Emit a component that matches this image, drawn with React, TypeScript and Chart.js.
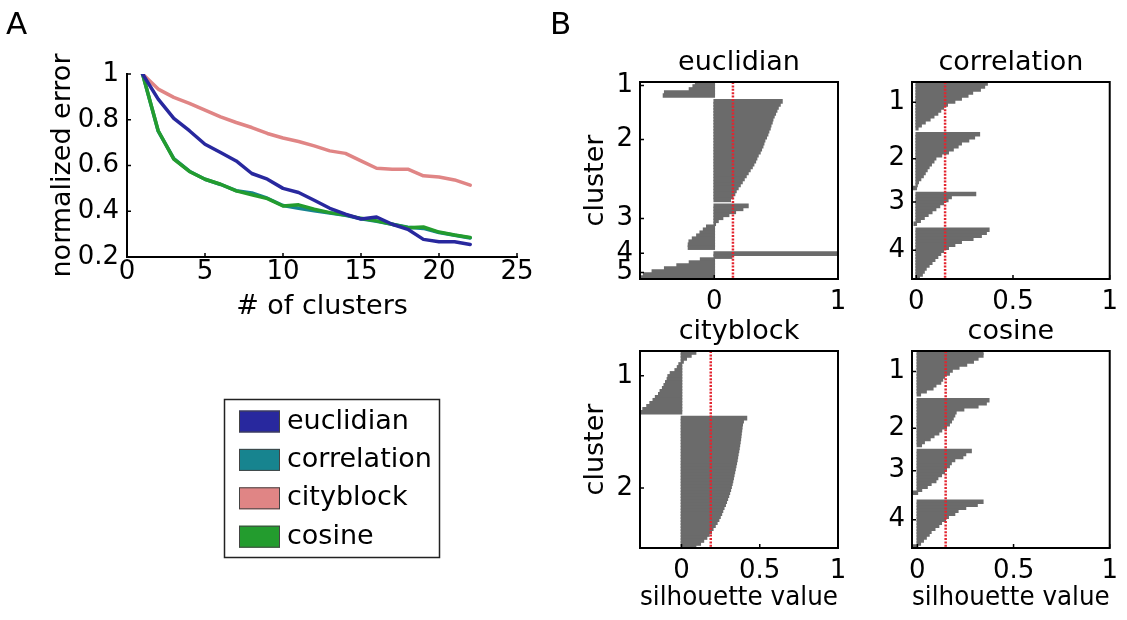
import React, { useEffect, useRef } from 'react';
import { Chart, registerables } from 'chart.js';
Chart.register(...registerables);

const FONT = "'DejaVu Sans', 'Liberation Sans', sans-serif";

// ---------- Panel A data ----------
const clusterCounts = [1, 2, 3, 4, 5, 6, 7, 8, 9, 10, 11, 12, 13, 14, 15, 16, 17, 18, 19, 20, 21, 22];
const euclidianErr = [1, 0.89, 0.806, 0.752, 0.693, 0.657, 0.62, 0.565, 0.54, 0.5, 0.482, 0.448, 0.413, 0.387, 0.366, 0.375, 0.343, 0.321, 0.277, 0.267, 0.267, 0.255];
const correlationErr = [1, 0.75, 0.63, 0.575, 0.54, 0.517, 0.49, 0.48, 0.457, 0.425, 0.413, 0.402, 0.392, 0.382, 0.367, 0.356, 0.343, 0.33, 0.325, 0.307, 0.295, 0.283];
const cityblockErr = [1, 0.934, 0.898, 0.872, 0.842, 0.813, 0.788, 0.766, 0.74, 0.72, 0.705, 0.686, 0.664, 0.653, 0.62, 0.588, 0.584, 0.584, 0.555, 0.55, 0.537, 0.514];
const cosineErr = [1, 0.752, 0.628, 0.574, 0.54, 0.518, 0.489, 0.472, 0.455, 0.423, 0.428, 0.409, 0.394, 0.384, 0.369, 0.358, 0.343, 0.328, 0.331, 0.309, 0.296, 0.285];
const xTicksA = [0, 5, 10, 15, 20, 25];
const yTicksA = [0.2, 0.4, 0.6, 0.8, 1];
const seriesNames = ['euclidian', 'correlation', 'cityblock', 'cosine'];
const seriesColors = ['#28289e', '#17848f', '#e08585', '#239c2e'];

// ---------- Panel B data (one value per sample row, null = gap between clusters) ----------
const euclidianSil = [
  -0.15, -0.17, -0.2, -0.4, -0.41, null,
  0.547, 0.531, 0.515, 0.504, 0.493, 0.482, 0.472, 0.466, 0.456, 0.45,
  0.439, 0.431, 0.42, 0.407, 0.399, 0.391, 0.38, 0.369, 0.353, 0.342,
  0.332, 0.318, 0.305, 0.288, 0.272, 0.256, 0.24, 0.224, 0.208, 0.191,
  0.175, 0.164, 0.148, 0.129, null,
  0.272, 0.229, 0.17, 0.116, 0.067, 0.03, 0.008, -0.06, -0.086, -0.113,
  -0.14, -0.175, -0.202, -0.208, -0.208, null,
  1.0, 0.14,
  -0.11, -0.2, -0.3, -0.4, -0.5, -0.57, -0.6,
];
const correlationSil = [
  0.366, 0.352, 0.33, 0.29, 0.266, 0.232, 0.198, 0.16, 0.14, 0.125, 0.11, 0.09, 0.07, 0.045, 0.025, 0.008, null,
  0.326, 0.3, 0.27, 0.232, 0.215, 0.19, 0.165, 0.13, 0.1, 0.09, 0.077, 0.065, 0.055, 0.045, 0.035, 0.022, 0.01, 0.004, -0.02, null,
  0.306, 0.18, 0.163, 0.14, 0.12, 0.1, 0.08, 0.06, 0.04, 0.02, -0.01, null,
  0.375, 0.361, 0.335, 0.292, 0.232, 0.198, 0.165, 0.14, 0.125, 0.11, 0.095, 0.08, 0.065, 0.05, 0.04, 0.03, 0.015,
];
const cityblockSil = [
  0.09, 0.06, 0.03, 0.01, -0.015, -0.025, -0.04, -0.07, -0.085, -0.09, -0.1, -0.11, -0.12, -0.135, -0.145, -0.165, -0.18, -0.2, -0.22, -0.245, -0.26, null,
  0.415, 0.394, 0.388, 0.385, 0.383, 0.38, 0.378, 0.376, 0.373, 0.37,
  0.367, 0.364, 0.36, 0.357, 0.354, 0.35, 0.346, 0.342, 0.338, 0.334,
  0.33, 0.326, 0.322, 0.317, 0.312, 0.306, 0.3, 0.293, 0.286, 0.279,
  0.27, 0.262, 0.255, 0.246, 0.237, 0.226, 0.214, 0.2, 0.19, 0.175,
  0.16, 0.14, 0.12, 0.09,
];
const cosineSil = [
  0.34, 0.34, 0.314, 0.29, 0.255, 0.215, 0.18, 0.165, 0.14, 0.13, 0.12, 0.095, 0.08, 0.045, 0.015, null,
  0.371, 0.357, 0.314, 0.24, 0.2, 0.193, 0.185, 0.176, 0.165, 0.15, 0.125, 0.11, 0.085, 0.065, 0.035, 0.02, null,
  0.279, 0.25, 0.235, 0.193, 0.175, 0.165, 0.15, 0.14, 0.124, 0.105, 0.095, 0.07, 0.05, 0.021, -0.028, null, null,
  0.34, 0.31, 0.25, 0.21, 0.193, 0.16, 0.145, 0.124, 0.11, 0.09, 0.07, 0.06, 0.045, 0.03, 0.015, -0.02,
];
const euclidianTickRows = [1.2, 19.3, 45.7, 57.4, 63.8];
const euclidianTickLabels = ['1', '2', '3', '4', '5'];
const correlationTickRows = [6.8, 25.7, 40.2, 56.4];
const correlationTickLabels = ['1', '2', '3', '4'];
const cityblockTickRows = [8.3, 45.9];
const cityblockTickLabels = ['1', '2'];
const cosineTickRows = [6.9, 25.9, 40.1, 56.5];
const cosineTickLabels = ['1', '2', '3', '4'];
const meanSil = [0.151, 0.149, 0.187, 0.147]; // euclidian, correlation, cityblock, cosine
const xMinSil = [-0.6, -0.022, -0.265, -0.028];
const silXTicksWide = [0, 1];
const silXTicks = [0, 0.5, 1];

// ---------- plugins ----------
const inTicksPlugin: any = {
  id: 'inTicks',
  afterDatasetsDraw(chart: any, _args: any, opts: any) {
    if (!opts || !opts.enabled) return;
    const { ctx, chartArea: a } = chart;
    const xs = chart.scales.x;
    const ys = chart.scales.y;
    const len = opts.len || 4;
    ctx.save();
    ctx.strokeStyle = '#000';
    ctx.lineWidth = 1.5;
    ctx.beginPath();
    xs.ticks.forEach((t: any) => {
      const p = xs.getPixelForValue(t.value);
      ctx.moveTo(p, a.bottom);
      ctx.lineTo(p, a.bottom - len);
    });
    ys.ticks.forEach((t: any) => {
      const p = ys.getPixelForValue(t.value);
      ctx.moveTo(a.left, p);
      ctx.lineTo(a.left + len, p);
    });
    ctx.stroke();
    if (opts.box) {
      ctx.lineWidth = 2;
      ctx.strokeRect(a.left, a.top, a.right - a.left, a.bottom - a.top);
    }
    ctx.restore();
  },
};

const legendBoxPlugin: any = {
  id: 'legendBox',
  afterDraw(chart: any) {
    const ctx = chart.ctx;
    ctx.save();
    ctx.fillStyle = '#000';
    ctx.textAlign = 'left';
    ctx.textBaseline = 'alphabetic';
    ctx.font = `31px ${FONT}`;
    ctx.fillText('A', 6, 34);
    ctx.fillText('B', 550, 34);
    ctx.lineWidth = 1.5;
    ctx.strokeStyle = '#222';
    ctx.strokeRect(224.5, 399.5, 215, 158);
    chart.data.datasets.forEach((ds: any, i: number) => {
      const cy = 421.5 + i * 38.4;
      ctx.fillStyle = ds.borderColor;
      ctx.fillRect(239, cy - 11, 41, 22);
      ctx.strokeStyle = '#444';
      ctx.lineWidth = 1;
      ctx.strokeRect(239.5, cy - 10.5, 40, 21);
      ctx.fillStyle = '#000';
      ctx.font = `27px ${FONT}`;
      ctx.textBaseline = 'middle';
      ctx.fillText(ds.label, 287, cy);
    });
    ctx.restore();
  },
};

const tickFont = { family: FONT, size: 26 };
const titleFont = { family: FONT, size: 27, weight: 'normal' as const };

function panelAConfig(): any {
  const series = [euclidianErr, correlationErr, cityblockErr, cosineErr];
  const drawOrder = [0, 2, 3, 1];
  return {
    type: 'line',
    data: {
      datasets: series.map((vals, i) => ({
        label: seriesNames[i],
        data: vals.map((v, k) => ({ x: clusterCounts[k], y: v })),
        borderColor: seriesColors[i],
        backgroundColor: seriesColors[i],
        borderWidth: 3.5,
        pointRadius: 0,
        tension: 0,
        borderJoinStyle: 'round',
        borderCapStyle: 'round',
        order: drawOrder[i],
      })),
    },
    options: {
      responsive: false,
      animation: false,
      layout: { padding: { left: 47, top: 74, right: 63, bottom: 297 } },
      plugins: {
        legend: { display: false },
        tooltip: { enabled: false },
        inTicks: { enabled: true, len: 4 },
      },
      scales: {
        x: {
          type: 'linear',
          min: 0,
          max: 25,
          afterBuildTicks: (s: any) => { s.ticks = xTicksA.map((v) => ({ value: v })); },
          afterFit: (s: any) => { s.height = 66; },
          grid: { display: false, drawTicks: false },
          border: { display: true, color: '#000', width: 2 },
          ticks: { font: tickFont, color: '#000', padding: 0, autoSkip: false, maxRotation: 0, callback: (v: any) => String(v) },
          title: { display: true, text: '# of clusters', font: titleFont, color: '#000', padding: 0 },
        },
        y: {
          type: 'linear',
          min: 0.2,
          max: 1,
          afterBuildTicks: (s: any) => { s.ticks = yTicksA.map((v) => ({ value: v })); },
          afterFit: (s: any) => { s.width = 80; },
          grid: { display: false, drawTicks: false },
          border: { display: true, color: '#000', width: 2 },
          ticks: { font: tickFont, color: '#000', padding: 8, autoSkip: false, callback: (v: any) => String(v) },
          title: { display: true, text: 'normalized error', font: titleFont, color: '#000', padding: { top: 0, bottom: 0 } },
        },
      },
    },
    plugins: [inTicksPlugin, legendBoxPlugin],
  };
}

function silConfig(p: any): any {
  const rows = p.values.length;
  const bars = p.values
    .map((v: any, i: number) => (v === null ? null : { x: v, y: i + 0.5 }))
    .filter((d: any) => d !== null);
  return {
    type: 'bar',
    data: {
      datasets: [
        {
          type: 'line',
          indexAxis: 'y',
          data: [{ x: p.mean, y: 0 }, { x: p.mean, y: rows }],
          borderColor: '#e3242f',
          borderWidth: 2.5,
          borderDash: [2, 1.4],
          pointRadius: 0,
          order: 0,
        },
        {
          type: 'bar',
          data: bars,
          backgroundColor: '#6b6b6b',
          borderWidth: 0,
          barPercentage: 1,
          categoryPercentage: 1,
          inflateAmount: 0.8,
          order: 1,
        },
      ],
    },
    options: {
      indexAxis: 'y',
      responsive: false,
      animation: false,
      layout: { padding: { left: 0, top: 15.1, right: p.padRight, bottom: 4 } },
      plugins: {
        legend: { display: false },
        tooltip: { enabled: false },
        title: { display: true, fullSize: false, text: p.title, font: titleFont, color: '#000', padding: { top: 0, bottom: 2.5 } },
        inTicks: { enabled: true, box: true, len: 4 },
      },
      scales: {
        x: {
          type: 'linear',
          min: p.xMin,
          max: 1,
          afterBuildTicks: (s: any) => { s.ticks = p.xTicks.map((v: number) => ({ value: v })); },
          afterFit: (s: any) => { s.height = 66; },
          grid: { display: false, drawTicks: false },
          border: { display: false },
          ticks: { font: tickFont, color: '#000', padding: 8, autoSkip: false, maxRotation: 0, callback: (v: any) => String(v) },
          title: { display: p.showXTitle, text: 'silhouette value', font: titleFont, color: '#000', padding: 0 },
        },
        y: {
          type: 'linear',
          min: 0,
          max: rows,
          reverse: true,
          offset: false,
          afterBuildTicks: (s: any) => { s.ticks = p.tickRows.map((v: number) => ({ value: v })); },
          afterFit: (s: any) => { s.width = 62; },
          grid: { display: false, drawTicks: false },
          border: { display: false },
          ticks: { font: tickFont, color: '#000', padding: 7, autoSkip: false, callback: (_v: any, i: number) => p.tickLabels[i] },
          title: { display: p.showYTitle, text: 'cluster', font: titleFont, color: '#000', padding: { top: 2, bottom: 0 } },
        },
      },
    },
    plugins: [inTicksPlugin],
  };
}

function ChartCanvas({ makeConfig, left, top, width, height }: any) {
  const ref = useRef<HTMLCanvasElement | null>(null);
  useEffect(() => {
    const chart = new Chart(ref.current as HTMLCanvasElement, makeConfig());
    return () => chart.destroy();
  }, []);
  return (
    <canvas
      ref={ref}
      width={width}
      height={height}
      style={{ position: 'absolute', left, top, width, height }}
    />
  );
}

export default function App() {
  useEffect(() => {
    document.body.style.margin = '0';
    document.body.style.overflow = 'hidden';
  }, []);
  const panels = [
    { title: 'euclidian', values: euclidianSil, tickRows: euclidianTickRows, tickLabels: euclidianTickLabels, mean: meanSil[0], xMin: xMinSil[0], xTicks: silXTicksWide, showXTitle: false, showYTitle: true, padRight: 20, left: 578, top: 32, width: 280 },
    { title: 'correlation', values: correlationSil, tickRows: correlationTickRows, tickLabels: correlationTickLabels, mean: meanSil[1], xMin: xMinSil[1], xTicks: silXTicks, showXTitle: false, showYTitle: false, padRight: 16, left: 850, top: 32, width: 276 },
    { title: 'cityblock', values: cityblockSil, tickRows: cityblockTickRows, tickLabels: cityblockTickLabels, mean: meanSil[2], xMin: xMinSil[2], xTicks: silXTicks, showXTitle: true, showYTitle: true, padRight: 20, left: 578, top: 301, width: 280 },
    { title: 'cosine', values: cosineSil, tickRows: cosineTickRows, tickLabels: cosineTickLabels, mean: meanSil[3], xMin: xMinSil[3], xTicks: silXTicks, showXTitle: true, showYTitle: false, padRight: 16, left: 850, top: 301, width: 276 },
  ];
  return (
    <div style={{ position: 'absolute', left: 0, top: 0, width: 1127, height: 620, overflow: 'hidden', background: '#fff' }}>
      <ChartCanvas makeConfig={panelAConfig} left={0} top={0} width={580} height={620} />
      {panels.map((p) => (
        <ChartCanvas key={p.title} makeConfig={() => silConfig(p)} left={p.left} top={p.top} width={p.width} height={317} />
      ))}
    </div>
  );
}
